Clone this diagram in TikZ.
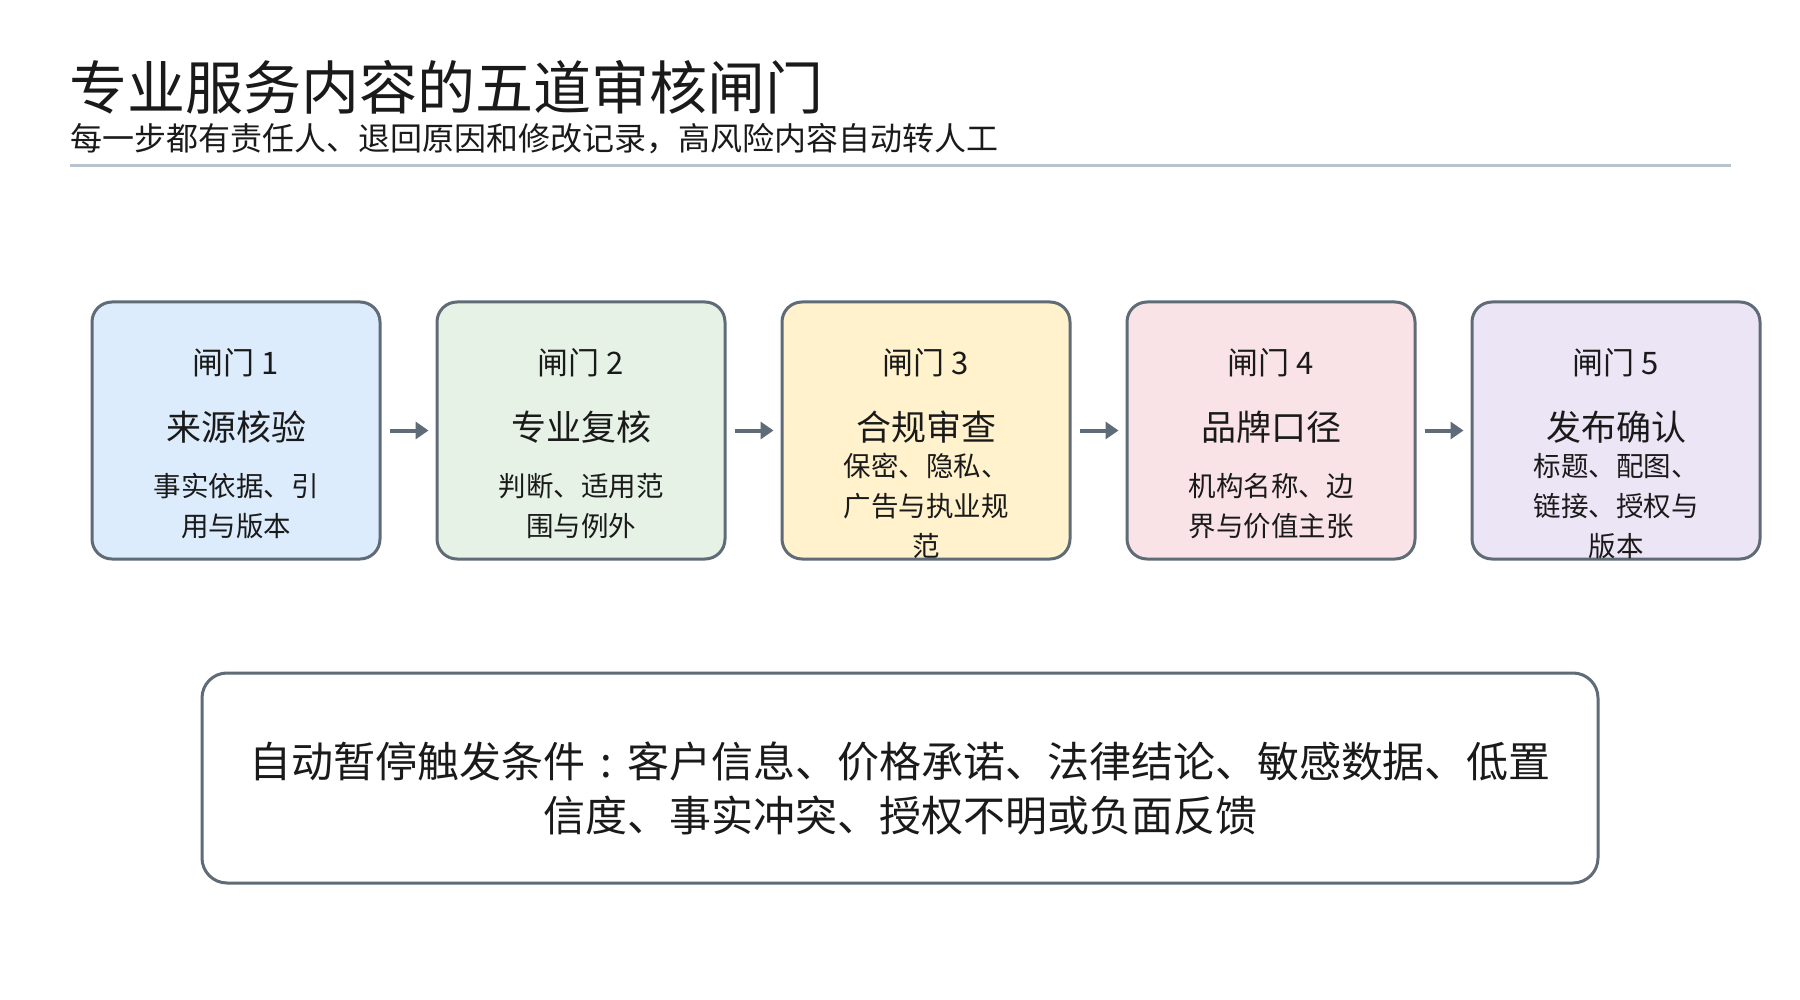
\documentclass[tikz,border=0pt]{standalone}
\usepackage{fontspec}
\setmainfont{Noto Sans CJK SC}
\usetikzlibrary{arrows.meta}
\definecolor{edgec}{HTML}{5F6B76}
\definecolor{rulec}{HTML}{B8C3CD}
\definecolor{txt}{HTML}{1A1A1A}
\definecolor{c1}{HTML}{DCECFC}
\definecolor{c2}{HTML}{E6F2E6}
\definecolor{c3}{HTML}{FFF2CC}
\definecolor{c4}{HTML}{F9E3E6}
\definecolor{c5}{HTML}{ECE5F6}
\tikzset{
  gate/.style={draw=edgec, line width=3pt, rounded corners=20pt, minimum width=288pt, minimum height=257pt, inner sep=0pt},
  gnum/.style={inner sep=0pt, text=txt, font=\fontsize{31pt}{36pt}\selectfont},
  gname/.style={inner sep=0pt, text=txt, font=\fontsize{35pt}{40pt}\selectfont},
  gdesc/.style={inner sep=0pt, text=txt, align=center, font=\fontsize{27.5pt}{40pt}\selectfont},
  flow/.style={draw=edgec, line width=4pt, -{Triangle[length=13pt,width=17pt]}, shorten <=8pt, shorten >=7pt},
}
\begin{document}
\begin{tikzpicture}[x=1pt,y=-1pt]
\fill[white] (0,0) rectangle (1800,1000);
\useasboundingbox (0,0) rectangle (1800,1000);

\node[anchor=west, inner sep=0pt, text=txt, font=\fontsize{58pt}{64pt}\selectfont] (title) at (69,87) {专业服务内容的五道审核闸门};
\node[anchor=west, inner sep=0pt, text=txt, font=\fontsize{32pt}{36pt}\selectfont] (sub) at (70,139) {每一步都有责任人、退回原因和修改记录，高风险内容自动转人工};
\coordinate (r1) at (70,166);
\coordinate (r2) at (1731,166);
\draw[rulec, line width=3pt] (r1) -- (r2);

\node[gate, fill=c1] (g1) at (236,430.5) {};
\node[gate, fill=c2] (g2) at (581,430.5) {};
\node[gate, fill=c3] (g3) at (926,430.5) {};
\node[gate, fill=c4] (g4) at (1271,430.5) {};
\node[gate, fill=c5] (g5) at (1616,430.5) {};

\foreach \i/\n/\d in {1/来源核验/{事实依据、引\\用与版本},
                      2/专业复核/{判断、适用范\\围与例外},
                      3/合规审查/{保密、隐私、\\广告与执业规\\范},
                      4/品牌口径/{机构名称、边\\界与价值主张},
                      5/发布确认/{标题、配图、\\链接、授权与\\版本}}{
  \node[gnum] (n\i) at ([yshift=67.5pt]g\i.center) {闸门 \i};
  \node[gname] (t\i) at ([yshift=3.5pt]g\i.center) {\n};
  \node[gdesc] (d\i) at ([yshift=-75.5pt]g\i.center) {\d};
}

\draw[flow] (g1) -- (g2);
\draw[flow] (g2) -- (g3);
\draw[flow] (g3) -- (g4);
\draw[flow] (g4) -- (g5);

\node[draw=edgec, line width=3pt, rounded corners=25pt, fill=white, minimum width=1396pt, minimum height=210pt, inner sep=0pt] (pause) at (900,778) {};
\node[inner sep=0pt, text=txt, align=center, font=\fontsize{42pt}{54pt}\selectfont] (ptxt) at ([yshift=-10pt]pause.center) {自动暂停触发条件\makebox[1em][c]{:}客户信息、价格承诺、法律结论、敏感数据、低置\\信度、事实冲突、授权不明或负面反馈};
\end{tikzpicture}
\end{document}
